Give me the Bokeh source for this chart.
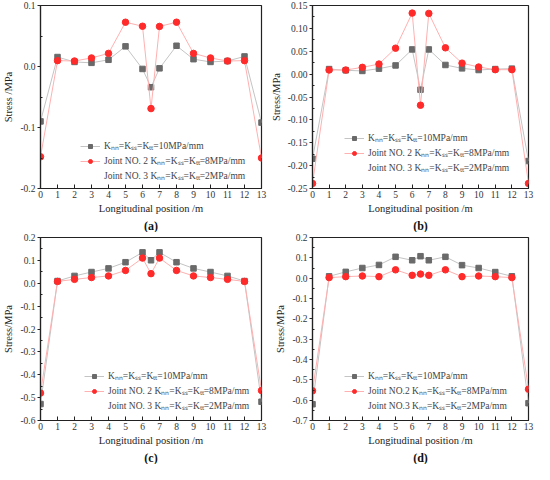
from bokeh.plotting import figure
from bokeh.layouts import gridplot
from bokeh.models import FixedTicker, NumeralTickFormatter, Legend, LegendItem, Title, Range1d, ColumnDataSource
from bokeh.embed import file_html
from bokeh.resources import INLINE

x_pos = [0, 1, 2, 3, 4, 5, 6, 6.5, 7, 8, 9, 10, 11, 12, 13]

a_gray = [-0.090, 0.0155, 0.0075, 0.006, 0.011, 0.033, -0.004, -0.034, -0.003, 0.034, 0.012, 0.0075, 0.009, 0.0165, -0.092]
a_red = [-0.148, 0.0096, 0.009, 0.014, 0.0215, 0.0726, 0.066, -0.069, 0.0657, 0.0726, 0.0215, 0.014, 0.009, 0.0096, -0.150]
b_gray = [-0.185, 0.011, 0.0083, 0.007, 0.012, 0.019, 0.054, -0.034, 0.054, 0.020, 0.0126, 0.009, 0.011, 0.012, -0.190]
b_red = [-0.239, 0.009, 0.009, 0.0148, 0.022, 0.0567, 0.1334, -0.068, 0.1327, 0.0575, 0.024, 0.0155, 0.0097, 0.0097, -0.239]
c_gray = [-0.528, 0.0096, 0.032, 0.049, 0.065, 0.092, 0.135, 0.1005, 0.135, 0.092, 0.065, 0.049, 0.032, 0.0096, -0.518]
c_red = [-0.480, 0.008, 0.017, 0.025, 0.032, 0.056, 0.110, 0.042, 0.110, 0.056, 0.032, 0.025, 0.017, 0.008, -0.469]
d_gray = [-0.620, 0.009, 0.031, 0.050, 0.065, 0.105, 0.088, 0.108, 0.088, 0.105, 0.064, 0.050, 0.030, 0.009, -0.615]
d_red = [-0.554, 0.0027, 0.0075, 0.0107, 0.0075, 0.041, 0.0139, 0.020, 0.0139, 0.041, 0.0075, 0.0107, 0.0075, 0.0027, -0.546]

x_ticks = list(range(0, 14))
a_yticks = [-0.2, -0.1, 0.0, 0.1]
b_yticks = [-0.25, -0.2, -0.15, -0.1, -0.05, 0.0, 0.05, 0.1, 0.15]
c_yticks = [-0.6, -0.5, -0.4, -0.3, -0.2, -0.1, 0.0, 0.1, 0.2]
d_yticks = [-0.7, -0.6, -0.5, -0.4, -0.3, -0.2, -0.1, 0.0, 0.1, 0.2]

K = "K\u2099\u2099=K\u209b\u209b=K\u209c\u209c="
labels_abc = [K + "10MPa/mm", "Joint NO. 2 " + K + "8MPa/mm", "Joint NO. 3 " + K + "2MPa/mm"]
labels_d = [K + "10MPa/mm", "Joint NO.2 " + K + "8MPa/mm", "Joint NO.3 " + K + "2MPa/mm"]

FONT = "Liberation Serif"


def make_panel(gray, red, yticks, fmt, ylabel, caption, labels, leg_loc):
    p = figure(width=267, height=232, output_backend="svg", toolbar_location=None,
               x_range=Range1d(0, 13), y_range=Range1d(yticks[0], yticks[-1]),
               min_border_top=5, min_border_right=6, min_border_left=4, min_border_bottom=2)
    p.xgrid.visible = False
    p.ygrid.visible = False
    p.outline_line_color = "#222222"
    p.outline_line_width = 1.2
    p.background_fill_color = "white"
    p.border_fill_color = "white"

    lg = p.line(x_pos, gray, line_color="#c4c4c4", line_width=1)
    sg = p.scatter(x_pos, gray, marker="square", size=5.5, fill_color="#6a6a6a", line_color="#6a6a6a")
    lr = p.line(x_pos, red, line_color="#ffb0b0", line_width=1)
    sr = p.scatter(x_pos, red, marker="circle", size=6.5, fill_color="#ff2a2a", line_color="#ff2a2a")
    empty = ColumnDataSource(data=dict(x=[], y=[]))
    l3 = p.line("x", "y", source=empty, line_alpha=0)

    legend = Legend(items=[LegendItem(label=labels[0], renderers=[lg, sg]),
                           LegendItem(label=labels[1], renderers=[lr, sr]),
                           LegendItem(label=labels[2], renderers=[l3])],
                    location=leg_loc, background_fill_alpha=0, border_line_alpha=0,
                    label_text_font=FONT, label_text_font_size="9.5px",
                    glyph_width=20, glyph_height=10, label_standoff=4,
                    spacing=2, padding=0, margin=0, label_height=12)
    p.add_layout(legend)

    xa = p.xaxis[0]
    xa.ticker = FixedTicker(ticks=x_ticks)
    xa.axis_label = "Longitudinal position /m"
    xa.major_tick_in = 4
    xa.major_tick_out = 0
    xa.major_label_standoff = 2
    xa.axis_label_standoff = 2

    ya = p.yaxis[0]
    minor = [(yticks[i] + yticks[i + 1]) / 2 for i in range(len(yticks) - 1)]
    ya.ticker = FixedTicker(ticks=yticks, minor_ticks=minor)
    ya.formatter = NumeralTickFormatter(format=fmt)
    ya.axis_label = ylabel
    ya.major_tick_in = 0
    ya.major_tick_out = 3
    ya.minor_tick_in = 2
    ya.minor_tick_out = 0
    ya.major_label_standoff = 2
    ya.axis_label_standoff = 3

    for ax in (xa, ya):
        ax.axis_line_color = "#222222"
        ax.axis_line_width = 1.2
        ax.major_tick_line_color = "#222222"
        ax.major_label_text_font = FONT
        ax.major_label_text_font_size = "9.5px"
        ax.major_label_text_color = "#333333"
        ax.axis_label_text_font = FONT
        ax.axis_label_text_font_size = "10.5px"
        ax.axis_label_text_font_style = "normal"
        ax.axis_label_text_color = "#222222"
    xa.minor_tick_line_color = None
    ya.minor_tick_line_color = "#222222"

    p.add_layout(Title(text=caption, align="center", text_font=FONT, text_font_size="12px",
                       text_font_style="bold", text_color="#111111", standoff=0), "below")
    return p


pa = make_panel(a_gray, a_red, a_yticks, "0.0", "Stress /MPa", "(a)", labels_abc, (40, 6))
pb = make_panel(b_gray, b_red, b_yticks, "0.00", "Stress/MPa", "(b)", labels_abc, (32, 14))
pc = make_panel(c_gray, c_red, c_yticks, "0.0", "Stress/MPa", "(c)", labels_abc, (44, 8))
pd = make_panel(d_gray, d_red, d_yticks, "0.0", "Stress/MPa", "(d)", labels_d, (32, 8))

grid = gridplot([[pa, pb], [pc, pd]], toolbar_location=None)

open("out.html", "w").write(file_html(grid, INLINE))
